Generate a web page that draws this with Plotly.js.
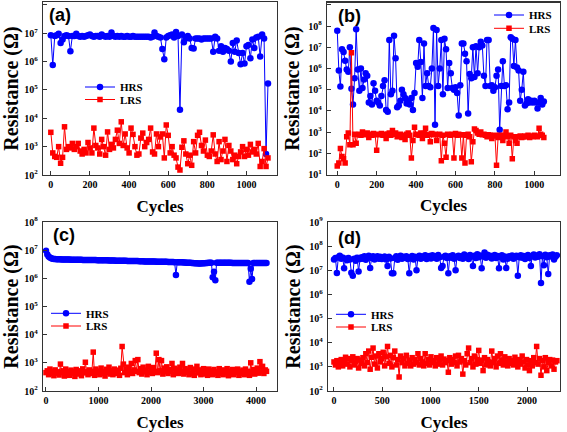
<!DOCTYPE html>
<html><head><meta charset="utf-8">
<script src="https://cdn.plot.ly/plotly-3.0.1.min.js"></script>
<style>html,body{margin:0;padding:0;background:#fff}#chart{width:567px;height:432px}</style>
</head><body><div id="chart"></div>
<script>
// ---------------- DATA ----------------
const seriesNames = ['HRS', 'LRS'];
const panelLabels = ['(a)', '(b)', '(c)', '(d)'];
const xTitle = 'Cycles';
const yTitle = 'Resistance (Ω)';

// cycle step between plotted points in each panel
const cycleStepA = 10, cycleStepB = 8, cycleStepC = 25, cycleStepD = 15;

// x tick values
const xTicksA = [0, 200, 400, 600, 800, 1000];
const xTicksB = [0, 200, 400, 600, 800, 1000];
const xTicksC = [0, 1000, 2000, 3000, 4000];
const xTicksD = [0, 500, 1000, 1500, 2000];
// y tick decades
const yDecadesA = [2, 3, 4, 5, 6, 7, 8];
const yDecadesB = [1, 2, 3, 4, 5, 6, 7, 8, 9];
const yDecadesC = [2, 3, 4, 5, 6, 7, 8];
const yDecadesD = [2, 3, 4, 5, 6, 7, 8, 9];

// (a)
const hrsA = [8.5e6, 7.5e5, 8e6, 8.5e6, 9.5e6, 4.5e6, 6e6, 8e6, 8.5e6, 8e6,
  2.3e6, 8e6, 8e6, 9.5e6, 8e6, 7.5e6, 8e6, 7.5e6, 8e6, 8.5e6,
  9e6, 8e6, 7.5e6, 8e6, 8e6, 7.5e6, 9e6, 8e6, 7.5e6, 8e6,
  7.5e6, 1.05e7, 8e6, 7.5e6, 8e6, 7.5e6, 8e6, 7.5e6, 7.5e6, 8e6,
  7.5e6, 7.5e6, 8e6, 7.5e6, 7.5e6, 7.5e6, 7.5e6, 7.5e6, 7.5e6, 7.5e6,
  7.5e6, 7e6, 7.5e6, 1.05e7, 8e6, 7.5e6, 7e6, 2.8e6, 1.2e6, 7e6,
  8e6, 8.5e6, 9e6, 7e6, 1.1e7, 8e6, 2e4, 9e6, 4.8e6, 6.5e6,
  8e6, 6.5e6, 3e6, 2.9e6, 6.5e6, 6.5e6, 6.5e6, 6e6, 6.5e6, 6.5e6,
  6.5e6, 6.5e6, 6.5e6, 2.2e6, 7.5e6, 6.5e6, 2.4e6, 3.5e6, 2.2e6, 3e6,
  2.8e6, 2.4e6, 1e6, 4.5e6, 2.2e6, 5.5e6, 2e6, 8e5, 2e6, 8.5e5,
  3.5e6, 3.8e6, 1.3e6, 6e6, 3e6, 7e6, 7.5e6, 1.5e6, 9e6, 6.5e6,
  5.5e2, 1.7e5];
const lrsA = [3.2e3, 600, 450, 420, 1e3, 260, 420, 5e3, 800, 1e3,
  900, 1.3e3, 800, 1e3, 1.3e3, 700, 550, 800, 600, 1.4e3,
  900, 600, 4.5e3, 1.1e3, 900, 550, 1.8e3, 1e3, 500, 3.3e3,
  800, 1.2e3, 900, 1.8e3, 3.8e3, 1.3e3, 7.5e3, 1.1e3, 2.8e3, 900,
  600, 4.5e3, 2.7e3, 1e3, 500, 550, 2e3, 3e3, 1e3, 1.4e3,
  1.8e3, 4.5e3, 650, 550, 2.8e3, 1e3, 2.2e3, 2.8e3, 400, 5.8e3,
  2.5e3, 600, 1e3, 500, 400, 190, 150, 950, 1.6e3, 550,
  250, 500, 220, 1.5e3, 600, 2.5e3, 3.2e3, 1.1e3, 700, 1.7e3,
  500, 450, 700, 2.6e3, 550, 300, 1.5e3, 350, 700, 1.8e3,
  300, 1.1e3, 700, 350, 500, 250, 450, 650, 1e3, 450,
  800, 500, 1.2e3, 650, 800, 550, 1.3e3, 200, 300, 850,
  200, 400];

// (b)
const hrsB = [6e7, 8e5, 1.4e5, 8e6, 6e6, 2.3e6, 9e5, 7e5, 1e7, 1.1e5,
  2e4, 3.5e5, 7e7, 9e5, 9e4, 1e6, 1.2e5, 3e5, 6e5, 4.5e5,
  2.5e4, 5e4, 2e4, 2e5, 9e4, 3e4, 2.5e4, 1.8e4, 5e4, 1.5e5,
  2.8e5, 1.1e4, 9e3, 2.2e7, 6e4, 9e4, 3.5e7, 3e6, 1.5e4, 1.8e4,
  3e4, 1e5, 6e4, 4e4, 2.2e4, 3e4, 2e4, 4e4, 1.1e4, 7e4,
  1.8e6, 1.2e6, 2.2e7, 2e6, 4e4, 1.5e7, 1.5e5, 6e5, 1.5e5, 1.3e5,
  1e6, 8e7, 2.2e3, 6.5e7, 1.5e5, 1e6, 2.2e7, 6e4, 2.5e7, 8e6,
  1.2e5, 1.8e6, 6e5, 1.2e5, 1e5, 1.3e5, 7e4, 6e3, 1.6e5, 1.5e7,
  1.5e7, 5e6, 2.2e6, 7.5e3, 5.5e5, 3.5e5, 1e7, 4e5, 1.1e7, 6e5,
  1e7, 1.8e7, 1.2e7, 4.5e5, 1.5e5, 2.2e7, 2.2e7, 1.5e5, 1.6e5, 9e4,
  1.3e5, 4.5e5, 9e5, 1.3e3, 1.5e5, 2.2e6, 1.5e5, 1.6e5, 1.2e4, 2.5e4,
  3e7, 2.5e7, 1.3e6, 2.2e7, 1.1e6, 8e5, 3e4, 1e5, 7e5, 1.8e4,
  2.2e4, 3.5e4, 2.5e4, 3e4, 2.5e4, 3e4, 2.5e4, 1.3e4, 2.5e4, 4e4,
  2e4, 2.8e4];
const lrsB = [25, 35, 170, 70, 55, 35, 600, 900, 250, 5.5e6,
  250, 800, 300, 750, 800, 700, 1e3, 800, 750, 900,
  550, 800, 700, 850, 750, 140, 800, 750, 850, 700,
  800, 500, 800, 900, 700, 1.2e3, 800, 900, 600, 750,
  800, 550, 700, 450, 800, 900, 700, 60, 400, 1.7e3,
  800, 750, 700, 900, 500, 850, 1.5e3, 700, 800, 350,
  850, 750, 800, 400, 750, 800, 45, 700, 300, 65,
  800, 750, 700, 800, 60, 850, 700, 800, 750, 60,
  750, 35, 700, 800, 600, 40, 350, 1.4e3, 1.2e3, 900,
  800, 1e3, 750, 800, 700, 600, 750, 700, 500, 650,
  700, 27, 550, 700, 600, 400, 700, 1e3, 600, 300,
  700, 55, 600, 400, 300, 600, 650, 550, 600, 650,
  600, 700, 550, 650, 600, 700, 650, 600, 1.5e3, 800,
  700, 550];

// (c)
const hrsC = [9.5e6, 7e6, 6e6, 5.5e6, 5.2e6, 5e6, 4.9e6, 4.85e6, 4.8e6, 4.8e6,
  4.75e6, 4.75e6, 4.7e6, 4.7e6, 4.7e6, 4.7e6, 4.65e6, 4.65e6, 4.65e6, 4.6e6,
  4.6e6, 4.6e6, 4.6e6, 4.6e6, 4.55e6, 4.55e6, 4.55e6, 4.55e6, 4.5e6, 4.5e6,
  4.5e6, 4.5e6, 4.5e6, 4.5e6, 4.45e6, 4.45e6, 4.45e6, 4.45e6, 4.45e6, 4.4e6,
  4.4e6, 4.4e6, 4.4e6, 4.4e6, 4.35e6, 4.35e6, 4.35e6, 4.35e6, 4.3e6, 4.3e6,
  4.3e6, 4.3e6, 4.3e6, 4.25e6, 4.25e6, 4.25e6, 4.25e6, 4.2e6, 4.2e6, 4.2e6,
  4.2e6, 4.2e6, 4.15e6, 4.15e6, 4.15e6, 4.15e6, 4.1e6, 4.1e6, 4.1e6, 4.1e6,
  4.1e6, 4.05e6, 4.05e6, 4.05e6, 4.05e6, 4e6, 4e6, 4e6, 4e6, 4e6,
  3.95e6, 3.95e6, 3.95e6, 3.95e6, 3.9e6, 3.9e6, 3.9e6, 3.9e6, 3.9e6, 3.85e6,
  3.85e6, 3.85e6, 3.85e6, 3.8e6, 3.8e6, 3.8e6, 3.8e6, 3.8e6, 3.75e6, 1.3e6,
  3.75e6, 3.75e6, 3.7e6, 3.7e6, 3.7e6, 3.65e6, 3.65e6, 3.6e6, 3.6e6, 3.55e6,
  3.55e6, 3.5e6, 3.5e6, 3.45e6, 3.4e6, 3.4e6, 3.35e6, 3.35e6, 3.35e6, 3.4e6,
  3.4e6, 3.45e6, 3.5e6, 3.5e6, 3.55e6, 3.6e6, 3.6e6, 1.1e6, 1.7e6, 8.5e5,
  3.6e6, 3.6e6, 3.6e6, 3.6e6, 3.6e6, 3.55e6, 3.55e6, 3.55e6, 3.55e6, 3.55e6,
  3.55e6, 3.55e6, 3.5e6, 3.5e6, 3.5e6, 3.5e6, 3.5e6, 3.5e6, 3.5e6, 3.5e6,
  3.5e6, 3.5e6, 3.5e6, 3.5e6, 3.5e6, 7.5e5, 2.2e6, 9.5e5, 3.5e6, 3.5e6,
  3.5e6, 3.5e6, 3.5e6, 3.5e6, 3.5e6, 3.5e6, 3.5e6, 3.5e6, 3.5e6];
const lrsC = [450, 520, 380, 600, 420, 500, 350, 560, 430, 480,
  370, 900, 450, 520, 340, 600, 420, 480, 360, 550,
  430, 500, 330, 580, 450, 400, 520, 350, 610, 440,
  1.05e3, 480, 380, 560, 420, 500, 2.4e3, 360, 600, 450,
  510, 380, 650, 420, 480, 340, 590, 450, 700, 400,
  520, 380, 600, 460, 420, 550, 360, 640, 3.8e3, 900,
  450, 600, 380, 700, 480, 950, 420, 560, 1.2e3, 500,
  1.3e3, 450, 620, 400, 700, 480, 550, 380, 750, 460,
  600, 420, 680, 500, 2.2e3, 450, 1.3e3, 520, 1.2e3, 400,
  650, 480, 720, 420, 580, 500, 950, 380, 640, 450,
  560, 420, 700, 480, 950, 400, 620, 460, 550, 380,
  680, 420, 520, 360, 600, 750, 440, 560, 380, 500,
  620, 400, 540, 360, 600, 450, 520, 380, 580, 430,
  480, 360, 620, 420, 500, 380, 560, 440, 620, 350,
  500, 420, 580, 380, 520, 450, 600, 360, 480, 420,
  550, 380, 600, 420, 500, 360, 1e3, 450, 580, 400,
  520, 650, 430, 1.1e3, 480, 750, 420, 560, 500];

// (d)
const hrsD = [2.8e7, 3.2e7, 7.7e6, 3.5e7, 4e7, 3e7, 3.4e7, 1.2e7, 3e7, 2.6e7,
  3.2e7, 2.8e7, 8e6, 6e6, 3e7, 2.5e7, 3.3e7, 9e6, 2.9e7, 3.5e7,
  3e7, 3.8e7, 2.7e7, 3.4e7, 4e7, 1.25e7, 3.2e7, 3.8e7, 2.8e7, 3.5e7,
  3.8e7, 3e7, 3.6e7, 2.9e7, 3.3e7, 3.7e7, 2.8e7, 1.5e7, 3.6e7, 3.1e7,
  7.5e6, 7.5e6, 3.2e7, 3.8e7, 2.7e7, 3.5e7, 4e7, 3e7, 3.6e7, 3.3e7,
  3.8e7, 2.9e7, 7.5e6, 3.4e7, 3.9e7, 2.8e7, 3.6e7, 1e7, 3.2e7, 4e7,
  3e7, 3.7e7, 3.3e7, 4.2e7, 2.9e7, 3.6e7, 3.9e7, 3.1e7, 4.2e7, 3.4e7,
  3.8e7, 3e7, 4.3e7, 3.5e7, 1.25e7, 1.5e7, 3.6e7, 4e7, 3.2e7, 7.5e6,
  3.8e7, 3.3e7, 4.2e7, 3e7, 1e7, 3.6e7, 4e7, 3.2e7, 3.8e7, 3e7,
  4.5e7, 3.4e7, 3.9e7, 2.9e7, 4.3e7, 3.6e7, 1.5e7, 4e7, 3.2e7, 4.6e7,
  3.5e7, 4.1e7, 1.2e7, 3.7e7, 5.5e7, 3.3e7, 4.4e7, 3.6e7, 4e7, 3.1e7,
  3.8e7, 4.3e7, 3.2e7, 3.9e7, 1.2e7, 3.5e7, 4.2e7, 2.8e7, 3.7e7, 1.25e7,
  3e7, 3.8e7, 3.4e7, 4.1e7, 3e7, 3.6e7, 4e7, 6e6, 3.5e7, 4.2e7,
  3.3e7, 3.9e7, 2.9e7, 3.7e7, 4.3e7, 3.2e7, 1.5e7, 3.9e7, 4.5e7, 3.4e7,
  4.1e7, 3.6e7, 4.6e7, 3e6, 3.8e7, 1.6e7, 4.4e7, 3.5e7, 7e6, 4.2e7,
  3.7e7, 4.5e7, 2.8e7, 3.6e7, 4.2e7];
const lrsD = [1.6e3, 1.2e3, 1.8e3, 1e3, 1.5e3, 2e3, 1.1e3, 1.7e3, 2.5e3, 1.3e3,
  2.2e3, 1e3, 1.8e3, 2.6e3, 1.2e3, 1.6e3, 2.2e3, 900, 1.9e3, 1.4e3,
  2.4e3, 1.1e3, 3.5e3, 1.5e3, 4.5e3, 800, 2.5e3, 6e3, 1.3e3, 2.8e3,
  900, 3.5e3, 1.6e3, 2.2e3, 4e3, 1.1e3, 2.6e3, 7e3, 1.4e3, 3e3,
  1e3, 2.4e3, 4.5e3, 1.2e3, 2e3, 380, 2.8e3, 1.5e3, 2.2e3, 1.1e3,
  3e3, 1.4e3, 1.9e3, 1.1e3, 2.4e3, 1.3e3, 2e3, 1.5e3, 3.5e3, 1.2e3,
  2.2e3, 1.6e3, 1.1e3, 3.5e3, 1.4e3, 2e3, 1.2e3, 2.6e3, 1.5e3, 1.8e3,
  1.1e3, 2.4e3, 1.3e3, 1.9e3, 2.8e3, 1.2e3, 2.1e3, 1.5e3, 1.8e3, 600,
  2.4e3, 1.3e3, 2e3, 1.5e3, 2.8e3, 1.1e3, 3e3, 1.6e3, 2.2e3, 500,
  1.8e3, 1.2e3, 3.5e3, 6e3, 1.5e3, 2.2e3, 1e3, 2.8e3, 1.3e3, 2e3,
  4.8e3, 1.4e3, 1.9e3, 700, 2.4e3, 1.2e3, 2e3, 1.6e3, 1.1e3, 4.5e3,
  1.5e3, 2.2e3, 1e3, 2.8e3, 1.4e3, 3.5e3, 1.9e3, 1.2e3, 2.6e3, 1.6e3,
  1.1e3, 2.2e3, 1.4e3, 1.8e3, 1.2e3, 2.5e3, 1.5e3, 1e3, 2e3, 1.3e3,
  2.8e3, 1.6e3, 900, 2e3, 1.2e3, 700, 1.8e3, 1.1e3, 2.4e3, 1.5e3,
  7e3, 1.3e3, 2.2e3, 450, 1.8e3, 1e3, 2.4e3, 700, 1.5e3, 2e3,
  1.1e3, 1.9e3, 800, 1.6e3, 1.8e3];

// ---------------- CHART ----------------
const W = 567, H = 432;
const BLUE = '#0000ff', RED = '#ff0000';
const serif = 'Liberation Serif, Times New Roman, serif';
const sans = 'Liberation Sans, Arial, sans-serif';
const cyc = (arr, step) => arr.map((_, i) => i * step);
const fx = (a, b) => [a / W, b / W];
const fy = (top, bot) => [1 - bot / H, 1 - top / H];

const panels = [
  {hrs: hrsA, lrs: lrsA, step: cycleStepA, xt: xTicksA, yd: yDecadesA,
   xd: fx(43, 277), yDom: fy(2, 175), xr: [-40, 1156], yr: [2, 8.1],
   lab: [47, 15], leg: [80, 87, 99.5]},
  {hrs: hrsB, lrs: lrsB, step: cycleStepB, xt: xTicksB, yd: yDecadesB,
   xd: fx(327, 560), yDom: fy(2.5, 174.5), xr: [-52, 1130], yr: [1, 9.11],
   lab: [336, 16], leg: [489, 15, 28.3]},
  {hrs: hrsC, lrs: lrsC, step: cycleStepC, xt: xTicksC, yd: yDecadesC,
   xd: fx(43, 277), yDom: fy(222, 391), xr: [-57, 4400], yr: [2, 8],
   lab: [51, 234.5], leg: [46, 313.3, 326]},
  {hrs: hrsD, lrs: lrsD, step: cycleStepD, xt: xTicksD, yd: yDecadesD,
   xd: fx(328, 560), yDom: fy(222, 391), xr: [-62, 2342], yr: [2, 9],
   lab: [336, 237.5], leg: [331, 314.3, 327]}
];

const traces = [];
const layout = {
  width: W, height: H, margin: {l: 0, r: 0, t: 0, b: 0},
  paper_bgcolor: '#fff', plot_bgcolor: '#fff', showlegend: true,
  annotations: []
};

panels.forEach((p, k) => {
  const n = k === 0 ? '' : String(k + 1);
  const xs = cyc(p.hrs, p.step);
  const legH = 'legend' + (2 * k === 0 ? '' : String(2 * k + 1));
  const legL = 'legend' + String(2 * k + 2);
  traces.push({
    x: xs, y: p.hrs, name: seriesNames[0], type: 'scatter', mode: 'lines+markers',
    xaxis: 'x' + n, yaxis: 'y' + n, legend: legH,
    line: {color: BLUE, width: 1}, marker: {symbol: 'circle', size: 6.5, color: BLUE}
  });
  traces.push({
    x: cyc(p.lrs, p.step), y: p.lrs, name: seriesNames[1], type: 'scatter', mode: 'lines+markers',
    xaxis: 'x' + n, yaxis: 'y' + n, legend: legL,
    line: {color: RED, width: 1}, marker: {symbol: 'square', size: 5.5, color: RED}
  });
  const axCommon = {
    showline: true, linecolor: '#333', linewidth: 1.3, mirror: true,
    ticks: 'inside', ticklen: 4, tickwidth: 1, tickcolor: '#333',
    showgrid: false, zeroline: false,
    tickfont: {family: serif, size: 10, weight: 'bold', color: '#000'}
  };
  layout['xaxis' + n] = Object.assign({}, axCommon, {
    domain: p.xd, anchor: 'y' + n, range: p.xr,
    tickmode: 'array', tickvals: p.xt, ticktext: p.xt.map(String),
    title: {text: xTitle, font: {family: serif, size: 17, weight: 'bold', color: '#000'}, standoff: 10}
  });
  layout['yaxis' + n] = Object.assign({}, axCommon, {
    domain: p.yDom, anchor: 'x' + n, type: 'log', range: p.yr,
    tickmode: 'array', tickvals: p.yd.map(e => Math.pow(10, e)),
    ticktext: p.yd.map(e => '10<sup>' + e + '</sup>'),
    ticklabelstandoff: 2,
    title: {text: yTitle, font: {family: serif, size: 20, weight: 'bold', color: '#000'}, standoff: 3}
  });
  const legStyle = {
    font: {family: serif, size: 11, weight: 'bold', color: '#000'},
    bgcolor: 'rgba(0,0,0,0)', borderwidth: 0, itemwidth: 30,
    xanchor: 'left', yanchor: 'middle', x: p.leg[0] / W
  };
  layout[legH] = Object.assign({}, legStyle, {y: 1 - p.leg[1] / H});
  layout[legL] = Object.assign({}, legStyle, {y: 1 - p.leg[2] / H});
  layout.annotations.push({
    text: panelLabels[k], xref: 'paper', yref: 'paper', showarrow: false,
    x: p.lab[0] / W, y: 1 - p.lab[1] / H, xanchor: 'left', yanchor: 'middle',
    font: {family: sans, size: 18, weight: 'bold', color: '#000'}
  });
});

Plotly.newPlot('chart', traces, layout, {displayModeBar: false, staticPlot: true});
</script>
</body></html>
